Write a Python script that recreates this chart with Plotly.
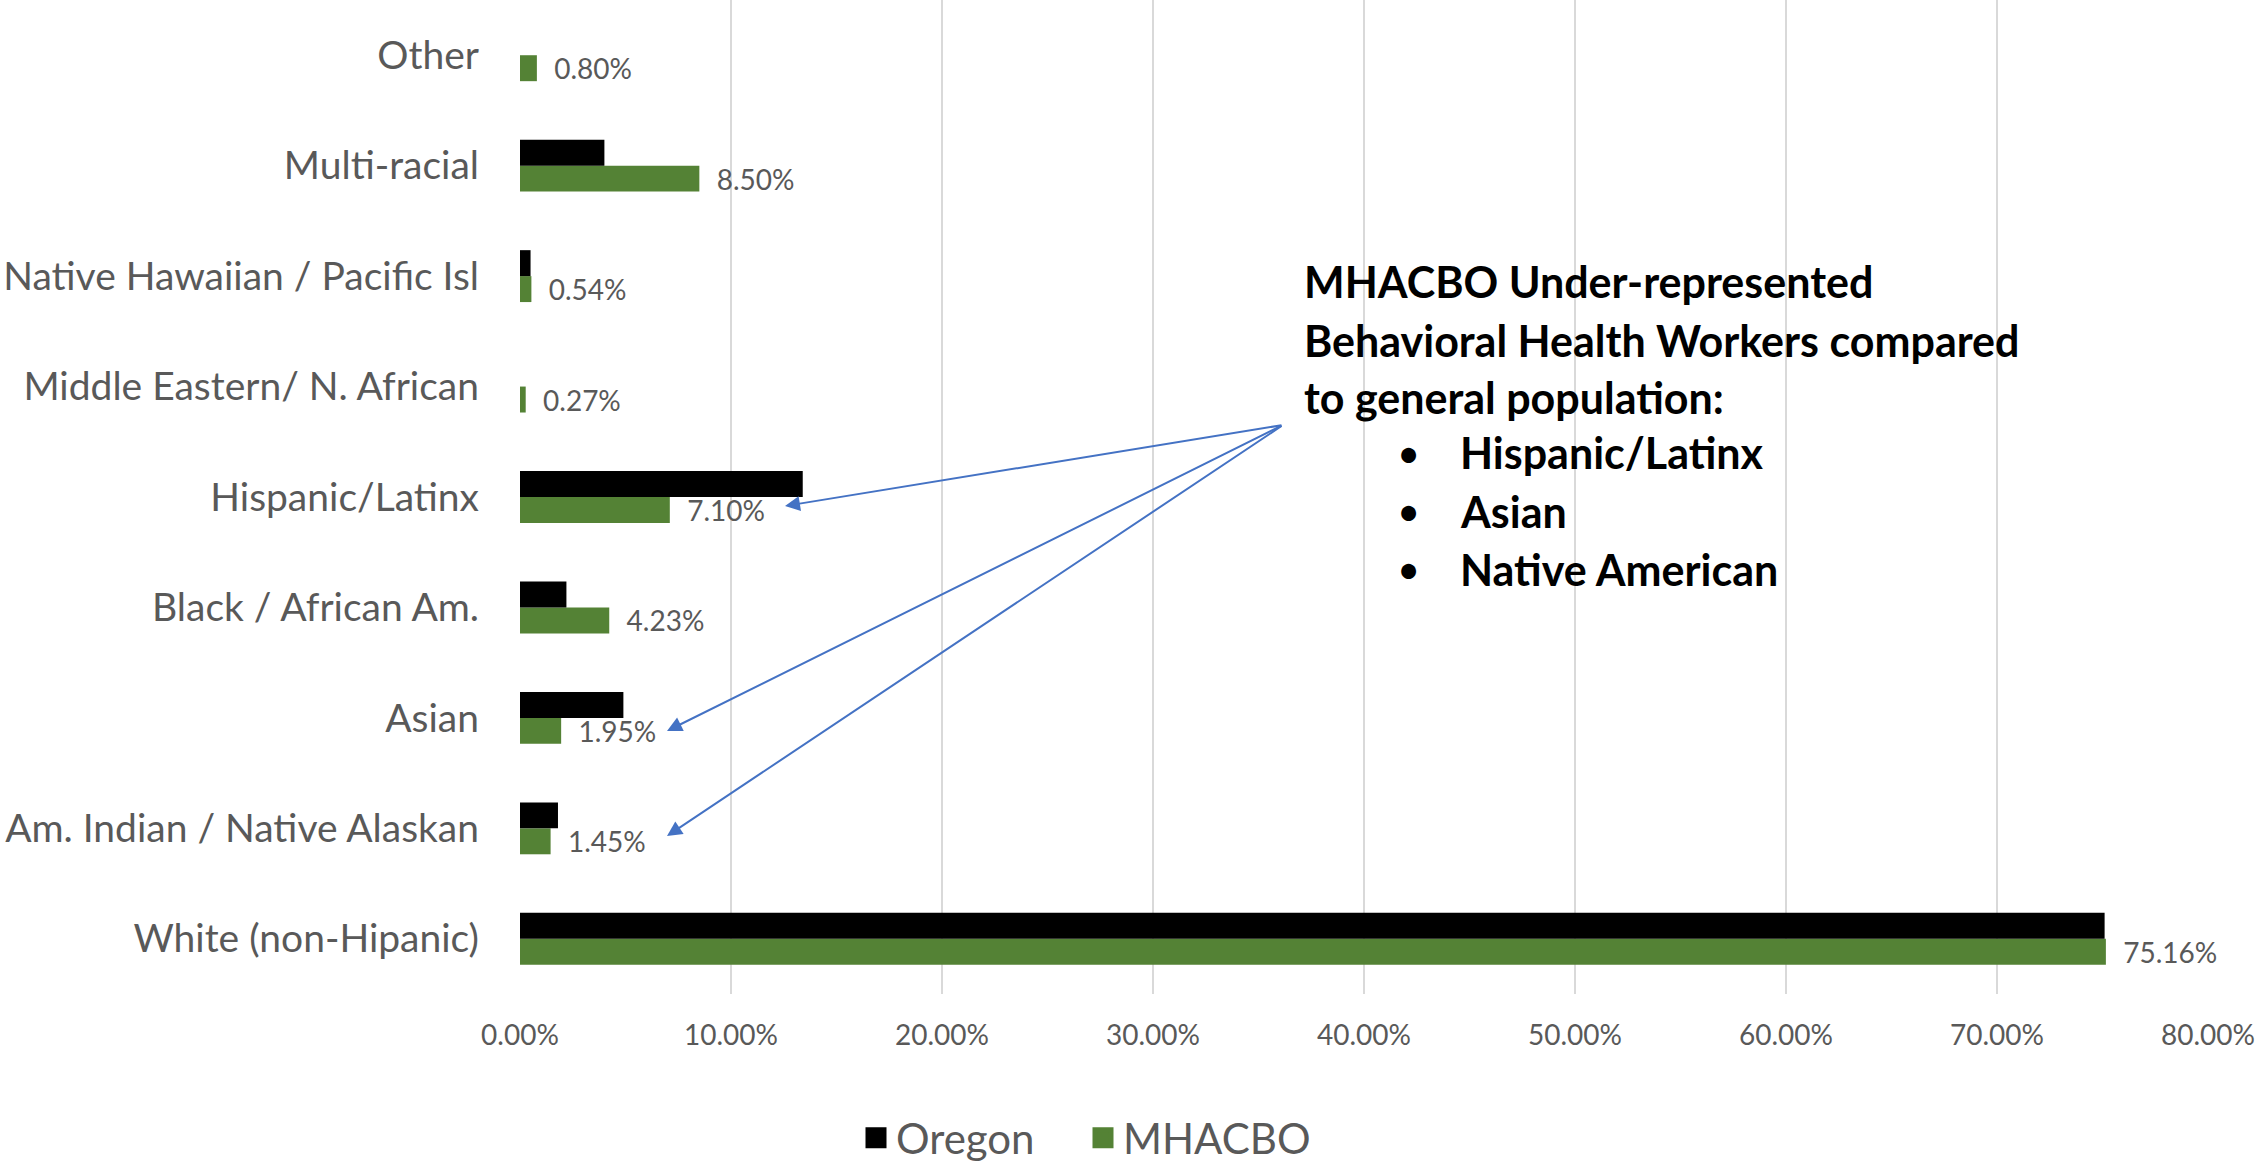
import plotly.graph_objects as go

# ---- data (bottom to top, as drawn on the category axis) ----
categories = [
    "White (non-Hipanic)",
    "Am. Indian / Native Alaskan",
    "Asian",
    "Black / African Am.",
    "Hispanic/Latinx",
    "Middle Eastern/ N. African",
    "Native Hawaiian / Pacific Isl",
    "Multi-racial",
    "Other",
]
oregon = [0.751, 0.018, 0.049, 0.022, 0.134, 0.0, 0.005, 0.040, 0.0]
mhacbo = [0.7516, 0.0145, 0.0195, 0.0423, 0.0710, 0.0027, 0.0054, 0.0850, 0.0080]
series_names = ["Oregon", "MHACBO"]
x_tick_values = [0.0, 0.1, 0.2, 0.3, 0.4, 0.5, 0.6, 0.7, 0.8]
note_title = ["MHACBO Under-represented", "Behavioral Health Workers compared", "to general population:"]
note_items = ["Hispanic/Latinx", "Asian", "Native American"]

# ---- styling ----
FONT = "Lato, 'Open Sans', sans-serif"
GREY = "#595959"
BLACK = "#000000"
GREEN = "#548235"
ARROW = "#4472C4"

W, H = 2260, 1163
L, R, T, B = 520, 52, 0, 169
PW, PH = W - L - R, H - T - B


def px(x):
    return (x - L) / PW


def py(y):
    return 1 - (y - T) / PH


fig = go.Figure()
# MHACBO first so it sits below Oregon within each group
fig.add_trace(go.Bar(
    y=categories, x=mhacbo, orientation="h", name=series_names[1],
    marker=dict(color=GREEN, line=dict(width=0)),
    texttemplate="\u00a0\u00a0%{x:.2%}", textposition="outside",
    textfont=dict(family=FONT, size=28, color=GREY),
    constraintext="none", cliponaxis=False, showlegend=False,
))
fig.add_trace(go.Bar(
    y=categories, x=oregon, orientation="h", name=series_names[0],
    marker=dict(color=BLACK, line=dict(width=0)), showlegend=False,
))
# legend entries
for name, col in zip(series_names, [BLACK, GREEN]):
    fig.add_trace(go.Scatter(
        x=[None], y=[None], mode="markers", name=name,
        marker=dict(symbol="square", size=16, color=col, line=dict(color=col, width=5)),
    ))

annotations = []
# note text
title_y = [282, 340, 397]
for t, yy in zip(note_title, title_y):
    annotations.append(dict(
        xref="paper", yref="paper", x=px(1302), y=py(yy), text=f"<b>{t}</b>",
        showarrow=False, xanchor="left", yanchor="middle",
        font=dict(family=FONT, size=43, color=BLACK),
    ))
item_y = [453, 511, 569]
for t, yy in zip(note_items, item_y):
    annotations.append(dict(
        xref="paper", yref="paper", x=px(1408), y=py(yy), text="\u2022",
        showarrow=False, xanchor="center", yanchor="middle",
        font=dict(family=FONT, size=40, color=BLACK),
    ))
    annotations.append(dict(
        xref="paper", yref="paper", x=px(1458), y=py(yy), text=f"<b>{t}</b>",
        showarrow=False, xanchor="left", yanchor="middle",
        font=dict(family=FONT, size=43, color=BLACK),
    ))

# arrows from the note to the three under-represented groups
tail = (1283, 425)
heads = [(785, 506), (667, 731), (667, 836)]
for hx, hy in heads:
    annotations.append(dict(
        xref="paper", yref="paper", x=px(hx), y=py(hy), text="",
        showarrow=True, axref="pixel", ayref="pixel",
        ax=tail[0] - hx, ay=tail[1] - hy,
        arrowhead=2, arrowsize=1.5, arrowwidth=2, arrowcolor=ARROW,
    ))

fig.update_layout(
    width=W, height=H,
    margin=dict(l=L, r=R, t=T, b=B, pad=0, autoexpand=False),
    paper_bgcolor="white", plot_bgcolor="white",
    barmode="group", bargap=0.53, bargroupgap=0,
    font=dict(family=FONT, color=GREY),
    xaxis=dict(
        range=[0, 0.8], tickvals=x_tick_values, tickformat=".2%",
        showgrid=True, gridcolor="#d9d9d9", gridwidth=2,
        zeroline=False, showline=False, ticks="",
        tickfont=dict(family=FONT, size=28, color=GREY),
        ticklabelstandoff=22, automargin=False,
    ),
    yaxis=dict(
        categoryorder="array", categoryarray=categories,
        showgrid=False, zeroline=False, showline=False, ticks="",
        tickfont=dict(family=FONT, size=39, color=GREY),
        ticklabelstandoff=40, automargin=False,
    ),
    legend=dict(
        orientation="h", x=px(1083), xanchor="center", y=py(1138), yanchor="middle",
        font=dict(family=FONT, size=42, color=GREY),
        itemsizing="trace", traceorder="normal", entrywidth=182,
    ),
    annotations=annotations,
)

fig.write_html(
    "out.html",
    config={"displayModeBar": False},
    post_script="document.body.style.margin='0';",
)
